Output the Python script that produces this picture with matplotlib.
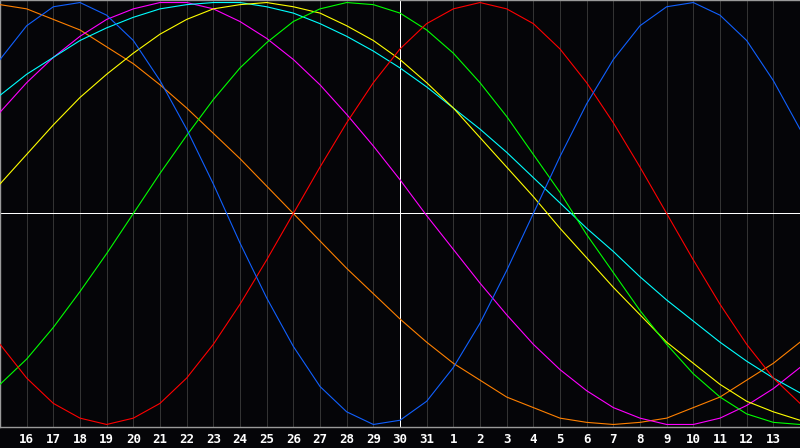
import matplotlib
matplotlib.use("Agg")
import matplotlib.pyplot as plt

# day numbers along the bottom (index 0 = 15th, index 30 = 14th next month)
days = [15, 16, 17, 18, 19, 20, 21, 22, 23, 24, 25, 26, 27, 28, 29, 30, 31,
        1, 2, 3, 4, 5, 6, 7, 8, 9, 10, 11, 12, 13, 14]

# values in percent, one per day
physical = [73, 89, 98, 100, 94, 82, 63, 40, 14, -14, -40, -63, -82, -94, -100, -98,
            -89, -73, -52, -27, 0, 27, 52, 73, 89, 98, 100, 94, 82, 63, 40]
emotional = [-62, -78, -90, -97, -100, -97, -90, -78, -62, -43, -22, 0, 22, 43, 62, 78,
             90, 97, 100, 97, 90, 78, 62, 43, 22, 0, -22, -43, -62, -78, -90]
intellectual = [-81, -69, -54, -37, -19, 0, 19, 37, 54, 69, 81, 91, 97, 100, 99, 95,
                87, 76, 62, 46, 28, 10, -10, -28, -46, -62, -76, -87, -95, -99, -100]
intuitive = [48, 62, 74, 84, 92, 97, 100, 100, 97, 91, 83, 73, 61, 47, 32, 16,
             -1, -17, -33, -48, -62, -74, -84, -92, -97, -100, -100, -97, -91, -83, -73]
aesthetic = [14, 28, 42, 55, 66, 76, 85, 92, 97, 99, 100, 98, 95, 89, 82, 73,
             62, 50, 36, 22, 8, -7, -21, -35, -48, -61, -71, -81, -89, -94, -98]
awareness = [99, 97, 92, 87, 79, 71, 61, 50, 38, 26, 13, 0, -13, -26, -38, -50,
             -61, -71, -79, -87, -92, -97, -99, -100, -99, -97, -92, -87, -79, -71, -61]
spiritual = [56, 66, 74, 82, 88, 93, 97, 99, 100, 100, 98, 95, 90, 84, 77, 69,
             60, 50, 40, 29, 17, 5, -7, -18, -30, -41, -51, -61, -70, -78, -85]

series = [
    (awareness, '#ff8000'),
    (intuitive, '#ff00ff'),
    (spiritual, '#00ffff'),
    (aesthetic, '#ffff00'),
    (intellectual, '#00ff00'),
    (emotional, '#ff0000'),
    (physical, '#1060ff'),
]

fig = plt.figure(figsize=(8, 4.48), dpi=100, facecolor='#050508')
ax = fig.add_axes([0, 21 / 448, 1, 427 / 448], facecolor='#050508')

x = list(range(len(days)))
for i in x:
    ax.axvline(i, color='#333333', lw=0.72, antialiased=False, zorder=1)
ax.axhline(0, color='white', lw=0.72, antialiased=False, zorder=2)
ax.axvline(15, color='white', lw=0.72, antialiased=False, zorder=2)

for vals, col in series:
    ax.plot(x, vals, color=col, lw=0.8, zorder=3)

ax.set_xlim(0, 30)
ax.set_ylim(-101.2, 101.2)
ax.set_yticks([])
ax.set_xticks(x[1:30])
ax.set_xticklabels([str(d) for d in days[1:30]], color='white',
                   fontsize=9, fontweight='bold', family='DejaVu Sans Mono')
ax.tick_params(axis='x', length=0, pad=4)
for side in ['left', 'top', 'bottom']:
    ax.spines[side].set_color('#9a9a9a')
    ax.spines[side].set_linewidth(1.0)
ax.spines['right'].set_visible(False)

fig.savefig('out.png', dpi=100, facecolor=fig.get_facecolor())
